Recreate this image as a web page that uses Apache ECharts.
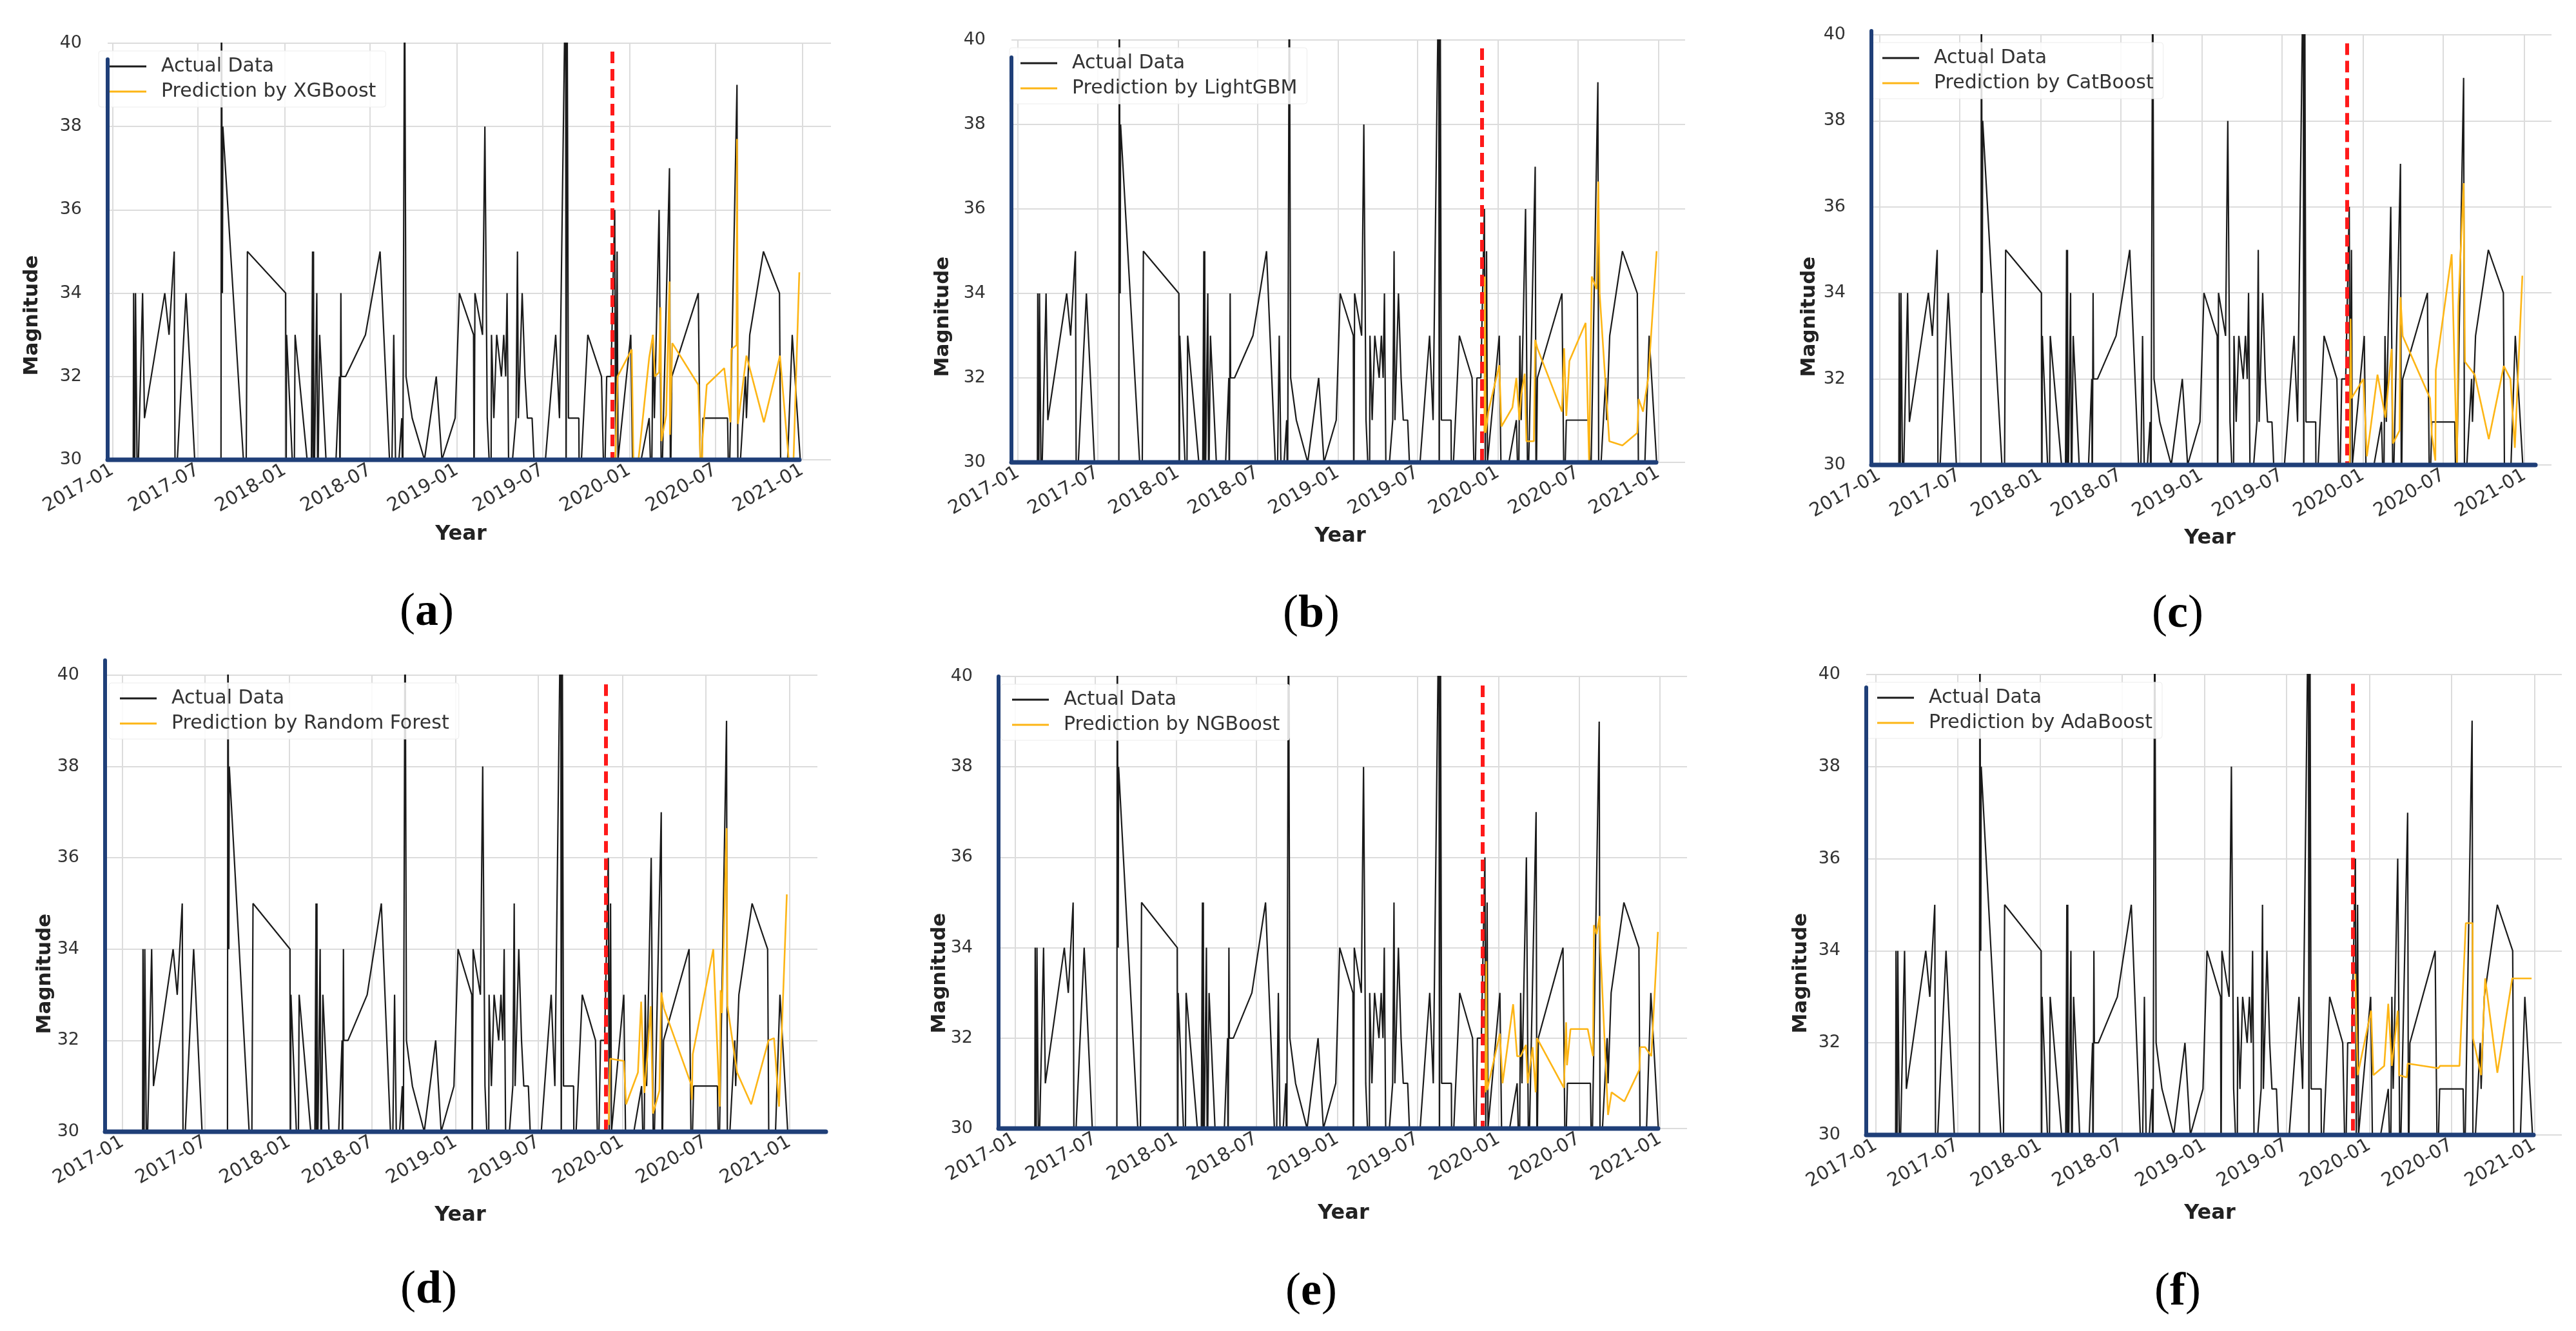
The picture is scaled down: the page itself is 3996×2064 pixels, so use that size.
<!DOCTYPE html>
<html>
<head>
<meta charset="utf-8">
<script src="https://cdn.jsdelivr.net/npm/echarts@6/dist/echarts.min.js"></script>
<style>
  html, body { margin: 0; padding: 0; background: #fff; }
  #chart { width: 3996px; height: 2064px; }
</style>
</head>
<body>
<div id="chart"></div>
<script>
// x tick labels (every half year) and y ticks
var tickLabels = ['2017-01', '2017-07', '2018-01', '2018-07', '2019-01', '2019-07', '2020-01', '2020-07', '2021-01'];
var yTicks = [30, 32, 34, 36, 38, 40];
var splitDate = '2019-11-26';   // train / test split (red dashed line)

var modelNames = ['XGBoost', 'LightGBM', 'CatBoost', 'Random Forest', 'NGBoost', 'AdaBoost'];
var panelLetters = ['a', 'b', 'c', 'd', 'e', 'f'];

// actual magnitudes (values outside 30-40 are clipped by the axis)
var actualData = [
    ['2017-02-14', 29], ['2017-02-15', 34], ['2017-02-17', 29], ['2017-02-19', 34], ['2017-02-23', 29],
    ['2017-03-06', 34], ['2017-03-10', 31], ['2017-04-22', 34], ['2017-05-01', 33], ['2017-05-12', 35],
    ['2017-05-14', 29], ['2017-06-06', 34], ['2017-06-29', 29], ['2017-08-19', 29], ['2017-08-20', 42],
    ['2017-08-22', 34], ['2017-08-23', 38], ['2017-10-11', 29], ['2017-10-14', 35], ['2018-01-03', 34],
    ['2018-01-04', 29], ['2018-01-05', 33], ['2018-01-21', 29], ['2018-01-23', 33], ['2018-02-26', 29],
    ['2018-03-01', 35], ['2018-03-02', 29], ['2018-03-03', 35], ['2018-03-04', 29], ['2018-03-10', 34],
    ['2018-03-12', 29], ['2018-03-16', 33], ['2018-04-03', 29], ['2018-04-16', 29], ['2018-04-27', 32],
    ['2018-04-28', 29], ['2018-04-30', 34], ['2018-05-01', 32], ['2018-05-10', 32], ['2018-06-21', 33],
    ['2018-07-22', 35], ['2018-08-15', 29], ['2018-08-20', 33], ['2018-08-25', 29], ['2018-09-06', 31],
    ['2018-09-08', 29], ['2018-09-12', 42], ['2018-09-15', 32], ['2018-09-28', 31], ['2018-10-24', 30],
    ['2018-11-18', 32], ['2018-11-30', 30], ['2018-12-28', 31], ['2019-01-06', 34], ['2019-02-05', 33],
    ['2019-02-06', 29], ['2019-02-08', 34], ['2019-02-24', 33], ['2019-03-01', 38], ['2019-03-06', 31],
    ['2019-03-14', 29], ['2019-03-15', 33], ['2019-03-20', 31], ['2019-03-26', 33], ['2019-04-05', 32],
    ['2019-04-10', 33], ['2019-04-14', 32], ['2019-04-17', 34], ['2019-04-21', 29], ['2019-05-06', 31],
    ['2019-05-09', 35], ['2019-05-11', 31], ['2019-05-19', 34], ['2019-05-25', 32], ['2019-05-30', 31],
    ['2019-06-09', 31], ['2019-06-17', 29], ['2019-06-30', 29], ['2019-07-29', 33], ['2019-08-06', 31],
    ['2019-08-19', 42], ['2019-08-20', 29], ['2019-08-22', 42], ['2019-08-25', 31], ['2019-09-16', 31],
    ['2019-09-17', 29], ['2019-10-05', 33], ['2019-11-03', 32], ['2019-11-09', 29], ['2019-11-14', 32],
    ['2019-11-23', 32], ['2019-12-01', 36], ['2019-12-03', 30], ['2019-12-06', 35], ['2019-12-08', 30],
    ['2020-01-04', 33], ['2020-01-09', 29], ['2020-02-12', 31], ['2020-02-17', 29], ['2020-02-20', 33],
    ['2020-02-23', 31], ['2020-03-04', 36], ['2020-03-09', 29], ['2020-03-26', 37], ['2020-03-28', 29],
    ['2020-03-31', 32], ['2020-05-26', 34], ['2020-05-31', 29], ['2020-06-05', 31], ['2020-07-27', 31],
    ['2020-07-30', 29], ['2020-08-16', 39], ['2020-08-18', 29], ['2020-09-03', 32], ['2020-09-05', 31],
    ['2020-09-12', 33], ['2020-10-11', 35], ['2020-11-14', 34], ['2020-11-17', 29], ['2020-11-28', 29],
    ['2020-12-11', 33], ['2020-12-28', 30]
];

var predXGBoost = [
    ['2019-12-01', 29.5], ['2019-12-07', 32.0], ['2020-01-06', 32.65], ['2020-01-11', 29.0], ['2020-02-12', 32.45],
    ['2020-02-20', 33.0], ['2020-02-24', 32.0], ['2020-03-04', 32.1], ['2020-03-07', 33.66], ['2020-03-09', 30.45],
    ['2020-03-19', 31.07], ['2020-03-26', 34.28], ['2020-03-27', 30.6], ['2020-04-01', 32.8], ['2020-05-26', 31.8],
    ['2020-06-02', 29.0], ['2020-06-04', 30.5], ['2020-06-13', 31.8], ['2020-07-20', 32.2], ['2020-08-02', 30.9],
    ['2020-08-04', 32.65], ['2020-08-15', 32.75], ['2020-08-16', 37.7], ['2020-08-18', 30.86], ['2020-09-05', 32.5],
    ['2020-10-12', 30.9], ['2020-11-15', 32.5], ['2020-12-11', 29.0], ['2020-12-26', 34.5]
];
var predLightGBM = [
    ['2019-12-01', 30.7], ['2019-12-02', 34.4], ['2019-12-04', 30.7], ['2019-12-10', 31.2], ['2020-01-04', 32.3],
    ['2020-01-09', 30.85], ['2020-02-03', 31.3], ['2020-02-12', 32.0], ['2020-02-19', 31.0], ['2020-02-23', 31.6],
    ['2020-03-02', 32.1], ['2020-03-06', 30.5], ['2020-03-23', 30.5], ['2020-03-26', 32.9], ['2020-03-31', 32.7],
    ['2020-05-26', 31.2], ['2020-05-31', 32.7], ['2020-06-05', 31.1], ['2020-06-12', 32.4], ['2020-07-19', 33.3],
    ['2020-07-27', 30.0], ['2020-08-02', 34.4], ['2020-08-13', 34.1], ['2020-08-17', 36.65], ['2020-08-20', 34.0],
    ['2020-09-11', 30.5], ['2020-10-11', 30.4], ['2020-11-14', 30.7], ['2020-11-17', 31.5], ['2020-11-27', 31.2],
    ['2020-12-09', 32.0], ['2020-12-28', 35.0]
];
var predCatBoost = [
    ['2019-12-02', 30.0], ['2019-12-04', 33.4], ['2019-12-06', 31.55], ['2020-01-02', 32.0], ['2020-01-10', 30.2],
    ['2020-02-03', 32.1], ['2020-02-21', 31.1], ['2020-03-06', 32.7], ['2020-03-09', 30.5], ['2020-03-24', 30.8],
    ['2020-03-26', 33.9], ['2020-03-31', 33.0], ['2020-06-01', 31.55], ['2020-06-05', 30.7], ['2020-06-13', 30.1],
    ['2020-06-14', 32.2], ['2020-07-20', 34.9], ['2020-08-01', 30.0], ['2020-08-04', 33.7], ['2020-08-16', 36.55],
    ['2020-08-19', 32.4], ['2020-09-10', 32.1], ['2020-10-12', 30.6], ['2020-11-15', 32.3], ['2020-11-30', 32.0],
    ['2020-12-10', 30.4], ['2020-12-27', 34.4]
];
var predRandomForest = [
    ['2019-12-02', 30.15], ['2019-12-05', 31.6], ['2020-01-04', 31.55], ['2020-01-09', 30.6], ['2020-02-04', 31.3],
    ['2020-02-11', 32.85], ['2020-02-18', 30.85], ['2020-02-23', 31.45], ['2020-03-03', 32.75], ['2020-03-08', 30.4],
    ['2020-03-22', 30.9], ['2020-03-26', 33.05], ['2020-04-01', 32.7], ['2020-05-30', 31.05], ['2020-06-01', 30.7],
    ['2020-06-03', 31.7], ['2020-07-18', 34.0], ['2020-08-01', 30.55], ['2020-08-03', 33.1], ['2020-08-06', 32.6],
    ['2020-08-16', 36.65], ['2020-08-18', 32.75], ['2020-09-08', 31.3], ['2020-10-09', 30.6], ['2020-11-16', 32.0],
    ['2020-11-28', 32.05], ['2020-12-09', 30.55], ['2020-12-26', 35.2]
];
var predNGBoost = [
    ['2019-12-02', 30.8], ['2019-12-04', 33.7], ['2019-12-06', 30.85], ['2020-01-04', 32.1], ['2020-01-10', 31.0],
    ['2020-02-03', 32.75], ['2020-02-12', 31.6], ['2020-02-20', 31.6], ['2020-03-03', 31.85], ['2020-03-07', 31.0],
    ['2020-03-18', 31.8], ['2020-03-25', 30.8], ['2020-03-28', 32.0], ['2020-05-28', 30.9], ['2020-06-02', 32.35],
    ['2020-06-04', 31.4], ['2020-06-12', 32.2], ['2020-07-21', 32.2], ['2020-08-02', 31.6], ['2020-08-04', 34.5],
    ['2020-08-10', 34.3], ['2020-08-17', 34.7], ['2020-08-19', 33.9], ['2020-09-05', 30.3], ['2020-09-13', 30.8],
    ['2020-10-12', 30.6], ['2020-11-15', 31.3], ['2020-11-17', 31.8], ['2020-11-28', 31.8], ['2020-12-12', 31.6],
    ['2020-12-27', 34.35]
];
var predAdaBoost = [
    ['2019-12-01', 33.5], ['2019-12-06', 31.3], ['2020-01-05', 32.7], ['2020-01-10', 31.3], ['2020-02-03', 31.5],
    ['2020-02-12', 32.85], ['2020-02-20', 31.5], ['2020-03-04', 32.7], ['2020-03-07', 31.3], ['2020-03-24', 31.25],
    ['2020-03-26', 31.55], ['2020-06-02', 31.45], ['2020-06-06', 31.5], ['2020-07-19', 31.5], ['2020-08-02', 34.6],
    ['2020-08-17', 34.6], ['2020-08-18', 32.1], ['2020-09-05', 31.3], ['2020-09-14', 33.4], ['2020-10-11', 31.35],
    ['2020-11-13', 33.4], ['2020-12-26', 33.4]
];
var predictions = [predXGBoost, predLightGBM, predCatBoost, predRandomForest, predNGBoost, predAdaBoost];

/*---- panel layout in pixels (plot rectangle, spines, labels) ----*/
var panels = [
    {left: 167,  top: 67,   width: 1122, height: 646, xMin: '2016-12-22', spineTop: 92,   spineEnd: 1240, lgDx: -14, ylab: [50, 489],    year: [715, 829],   letter: [662, 950]},
    {left: 1569, top: 62,   width: 1045, height: 655, xMin: '2016-12-17', spineTop: 89,   spineEnd: 2569, lgDx: -3,  ylab: [1463, 491],  year: [2079, 832],  letter: [2034, 953]},
    {left: 2903, top: 54,   width: 1055, height: 667, xMin: '2016-12-14', spineTop: 48,   spineEnd: 3933, lgDx: 0,   ylab: [2807, 491],  year: [3428, 835],  letter: [3378, 953]},
    {left: 163,  top: 1047, width: 1105, height: 708, xMin: '2016-11-24', spineTop: 1024, spineEnd: 1281, lgDx: 6,   ylab: [70, 1510],   year: [714, 1885],  letter: [665, 2001]},
    {left: 1549, top: 1049, width: 1068, height: 701, xMin: '2016-11-24', spineTop: 1049, spineEnd: 2572, lgDx: 4,   ylab: [1458, 1509], year: [2084, 1882], letter: [2034, 2004]},
    {left: 2895, top: 1046, width: 1079, height: 714, xMin: '2016-12-11', spineTop: 1066, spineEnd: 3930, lgDx: 0,   ylab: [2794, 1509], year: [3428, 1882], letter: [3378, 2004]}
];
var xMax = '2021-03-03';

var spineColor = '#1f3f78';
var gridColor = '#dcdcdc';
var font = 'DejaVu Sans';

function toTime(s) { return echarts.time.parse(s).getTime(); }
function toPoints(arr) { return arr.map(function (d) { return [toTime(d[0]), d[1]]; }); }

var tickValues = tickLabels.map(function (t) { return toTime(t + '-01'); });

function tickName(v) {
    for (var k = 0; k < tickValues.length; k++) {
        if (Math.abs(tickValues[k] - v) < 1000) return tickLabels[k];
    }
    return '';
}

var grids = [], xAxes = [], yAxes = [], series = [], legends = [], graphics = [];
var actualPoints = toPoints(actualData);
var splitTime = toTime(splitDate);

panels.forEach(function (p, i) {
    var predName = 'Prediction by ' + modelNames[i];
    var bottom = p.top + p.height;
    grids.push({left: p.left, top: p.top, width: p.width, height: p.height, containLabel: false});
    xAxes.push({
        type: 'value', gridIndex: i,
        min: toTime(p.xMin), max: toTime(xMax),
        axisLine: {show: false},
        axisTick: {show: false, customValues: tickValues},
        axisLabel: {
            customValues: tickValues, rotate: 30, margin: 14,
            fontFamily: font, fontSize: 29, color: '#333',
            formatter: function (v) { return tickName(v); }
        },
        splitLine: {show: true, lineStyle: {color: gridColor, width: 2}}
    });
    yAxes.push({
        type: 'value', gridIndex: i,
        min: yTicks[0], max: yTicks[yTicks.length - 1], interval: yTicks[1] - yTicks[0],
        axisLine: {show: false},
        axisTick: {show: false},
        axisLabel: {fontFamily: font, fontSize: 27, color: '#333', margin: 40},
        splitLine: {show: true, lineStyle: {color: gridColor, width: 2}}
    });
    series.push({
        name: 'Actual Data', type: 'line', xAxisIndex: i, yAxisIndex: i,
        data: actualPoints, showSymbol: false, symbol: 'none', clip: true,
        lineStyle: {color: '#1a1a1a', width: 2.2}, itemStyle: {color: '#1a1a1a'}, z: 2
    });
    series.push({
        name: predName, type: 'line', xAxisIndex: i, yAxisIndex: i,
        data: toPoints(predictions[i]), showSymbol: false, symbol: 'none', clip: true,
        lineStyle: {color: '#fdb515', width: 2.6}, itemStyle: {color: '#fdb515'}, z: 3
    });
    // red dashed split line
    series.push({
        type: 'line', xAxisIndex: i, yAxisIndex: i, data: [], z: 4,
        markLine: {
            silent: true, symbol: 'none', animation: false,
            label: {show: false},
            lineStyle: {color: '#ff1a1a', width: 6, type: [18, 9]},
            data: [[{coord: [splitTime, 39.8]}, {coord: [splitTime, 30]}]]
        }
    });
    legends.push({
        data: ['Actual Data', predName], orient: 'vertical',
        left: p.left + p.lgDx, top: p.top + 12,
        icon: 'rect', itemWidth: 57, itemHeight: 3, itemGap: 9,
        padding: [9, 15, 9, 17],
        backgroundColor: 'rgba(255,255,255,0.85)', borderColor: '#ececec', borderWidth: 1, borderRadius: 4,
        textStyle: {fontFamily: font, fontSize: 30, color: '#333', padding: [0, 0, 0, 18]},
        selectedMode: false
    });
    // spines (left and bottom), drawn above the legend box
    graphics.push({
        type: 'line', z: 20,
        shape: {x1: p.left, y1: p.spineTop, x2: p.left, y2: bottom},
        style: {stroke: spineColor, lineWidth: 6, lineCap: 'round'}
    });
    graphics.push({
        type: 'line', z: 20,
        shape: {x1: p.left, y1: bottom, x2: p.spineEnd, y2: bottom},
        style: {stroke: spineColor, lineWidth: 7, lineCap: 'round'}
    });
    graphics.push({
        type: 'text', x: p.ylab[0], y: p.ylab[1], rotation: Math.PI / 2,
        style: {text: 'Magnitude', font: 'bold 31px "DejaVu Sans"', fill: '#222', align: 'center', verticalAlign: 'middle'}
    });
    graphics.push({
        type: 'text', x: p.year[0], y: p.year[1],
        style: {text: 'Year', font: 'bold 32px "DejaVu Sans"', fill: '#222', align: 'center', verticalAlign: 'middle'}
    });
    graphics.push({
        type: 'text', x: p.letter[0], y: p.letter[1],
        style: {
            text: '{p|(}{b|' + panelLetters[i] + '}{p|)}', align: 'center', verticalAlign: 'middle',
            rich: {
                p: {fontFamily: 'Liberation Serif', fontSize: 72, fill: '#000'},
                b: {fontFamily: 'Liberation Serif', fontSize: 72, fontWeight: 'bold', fill: '#000'}
            }
        }
    });
});

var myChart = echarts.init(document.getElementById('chart'), null, {renderer: 'canvas'});
myChart.setOption({
    animation: false,
    backgroundColor: '#fff',
    grid: grids,
    xAxis: xAxes,
    yAxis: yAxes,
    legend: legends,
    series: series,
    graphic: graphics
});
</script>
</body>
</html>
